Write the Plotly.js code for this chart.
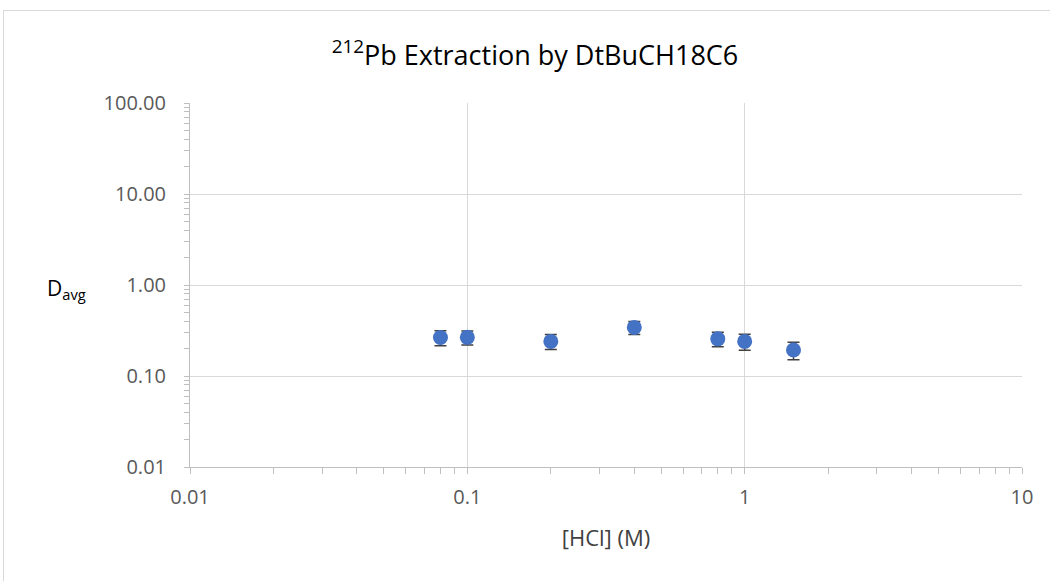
<!DOCTYPE html>
<html>
<head>
<meta charset="utf-8">
<script src="https://cdn.plot.ly/plotly-3.0.1.min.js"></script>
<style>
  html, body { margin: 0; padding: 0; background: #ffffff; }
  #wrap { position: relative; width: 1050px; height: 581px; overflow: hidden; }
  #chart { position: absolute; left: 0; top: 0; width: 1050px; height: 581px; }
  #frame { position: absolute; left: 3px; top: 10px; width: 1060px; height: 600px;
           border-left: 1px solid #d9d9d9; border-top: 1px solid #d9d9d9; pointer-events: none; }
</style>
</head>
<body>
<div id="wrap">
  <div id="chart"></div>
  <div id="frame"></div>
</div>
<script>
// HCl concentration (M) and averaged distribution ratios
const hcl = [0.08, 0.1, 0.2, 0.4, 0.8, 1.0, 1.5];
const dAvg = [0.265, 0.266, 0.240, 0.342, 0.256, 0.240, 0.193];
const dErr = [0.050, 0.047, 0.045, 0.056, 0.046, 0.048, 0.042];

const yTickVals = [0.01, 0.1, 1, 10, 100];
const yTickText = ['0.01', '0.10', '1.00', '10.00', '100.00'];
const xTickVals = [0.01, 0.1, 1, 10];
const xTickText = ['0.01', '0.1', '1', '10'];

// minor tick positions for each decade
function minors(lo, hi) {
  const out = [];
  for (let e = lo; e < hi; e++) {
    for (let m = 2; m <= 9; m++) out.push(m * Math.pow(10, e));
  }
  return out;
}

const fontFam = '"Open Sans", sans-serif';
const txt = '#595959';

const data = [{
  x: hcl,
  y: dAvg,
  type: 'scatter',
  mode: 'markers',
  marker: { color: '#4472C4', size: 15 },
  error_y: { type: 'data', array: dErr, visible: true, color: '#404040', thickness: 1.5, width: 6 },
  hoverinfo: 'x+y'
}];

// invisible trace so the minor-tick axes are drawn
data.push({ x: [1], y: [1], xaxis: 'x2', yaxis: 'y2', mode: 'markers',
            marker: { opacity: 0 }, hoverinfo: 'skip', showlegend: false });

const layout = {
  width: 1050,
  height: 581,
  margin: { l: 190, r: 28, t: 103, b: 114 },
  paper_bgcolor: 'rgba(0,0,0,0)',
  plot_bgcolor: '#ffffff',
  showlegend: false,
  font: { family: fontFam, color: txt, size: 20 },
  title: {
    text: '<sup>212</sup>Pb Extraction by DtBuCH18C6',
    font: { family: fontFam, size: 27, color: '#000000' },
    x: 0.5095, xanchor: 'center', y: 0.905, yanchor: 'middle', xref: 'container', yref: 'container'
  },
  xaxis: {
    type: 'log', range: [-2, 1],
    tickvals: xTickVals, ticktext: xTickText,
    showgrid: true, gridcolor: '#d9d9d9', gridwidth: 1,
    showline: true, linecolor: '#bfbfbf', linewidth: 1,
    ticks: 'outside', ticklen: 6, tickcolor: '#bfbfbf',
    ticklabelstandoff: 6,
    zeroline: false,
    tickfont: { family: fontFam, size: 20, color: txt },
    title: { text: '[HCl] (M)', font: { family: fontFam, size: 22, color: '#404040' }, standoff: 21 }
  },
  xaxis2: {
    type: 'log', range: [-2, 1], overlaying: 'x', anchor: 'y',
    tickvals: minors(-2, 1), showticklabels: false,
    showgrid: false, showline: false, zeroline: false,
    ticks: 'outside', ticklen: 6, tickcolor: '#bfbfbf', side: 'bottom'
  },
  yaxis: {
    type: 'log', range: [-2, 2],
    tickvals: yTickVals, ticktext: yTickText,
    showgrid: true, gridcolor: '#d9d9d9', gridwidth: 1,
    showline: true, linecolor: '#bfbfbf', linewidth: 1,
    ticks: 'outside', ticklen: 5, tickcolor: '#bfbfbf',
    ticklabelstandoff: 14,
    zeroline: false,
    tickfont: { family: fontFam, size: 20, color: txt }
  },
  yaxis2: {
    type: 'log', range: [-2, 2], overlaying: 'y', anchor: 'x',
    tickvals: minors(-2, 2), showticklabels: false,
    showgrid: false, showline: false, zeroline: false,
    ticks: 'outside', ticklen: 5, tickcolor: '#bfbfbf', side: 'left'
  },
  annotations: [{
    text: 'D<sub>avg</sub>',
    xref: 'paper', yref: 'y', x: -0.149, y: 0, yshift: -4,
    xanchor: 'center', yanchor: 'middle', showarrow: false,
    font: { family: fontFam, size: 21, color: '#000000' }
  }]
};

Plotly.newPlot('chart', data, layout, { displayModeBar: false, staticPlot: true });
</script>
</body>
</html>
